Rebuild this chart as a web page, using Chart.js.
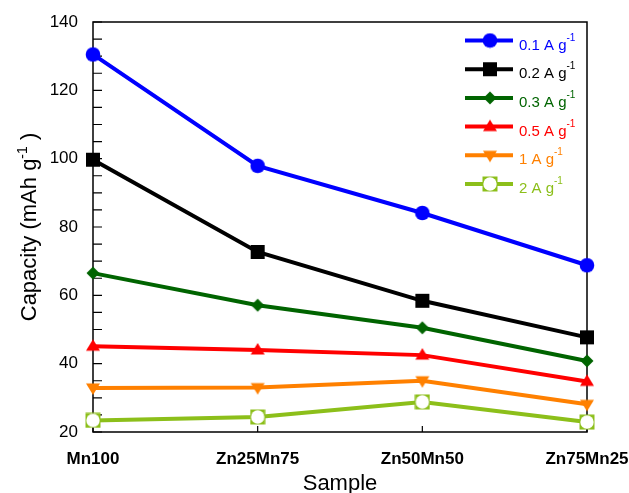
<!DOCTYPE html>
<html>
<head>
<meta charset="utf-8">
<script src="https://cdn.jsdelivr.net/npm/chart.js@4.4.1/dist/chart.umd.min.js"></script>
<style>
  html, body { margin: 0; padding: 0; background: #fff; }
  #wrap { width: 629px; height: 493px; }
</style>
</head>
<body>
<div id="wrap"><canvas id="chart" width="629" height="493"></canvas></div>
<script>
// samples on the x axis
const samples = ['Mn100', 'Zn25Mn75', 'Zn50Mn50', 'Zn75Mn25'];
// current densities (A g-1), one series each
const rates = ['0.1', '0.2', '0.3', '0.5', '1', '2'];

// capacity in mAh g-1
const cap01 = [130.5, 97.9, 84.1, 68.8];
const cap02 = [99.7, 72.7, 58.4, 47.7];
const cap03 = [66.5, 57.1, 50.5, 40.8];
const cap05 = [45.1, 44.0, 42.5, 34.8];
const cap1 = [32.9, 33.0, 35.0, 28.1];
const cap2 = [23.4, 24.4, 28.8, 22.9];

const yMin = 20;
const yMax = 140;
const yStep = 20;
const yMinorStep = 5;

const FONT = "'Liberation Sans', Arial, sans-serif";

// look of each series
const colors = ['#0000ff', '#000000', '#006400', '#ff0000', '#ff8000', '#8cbf1a'];
const shapes = ['circle', 'square', 'diamond', 'triangle', 'triangleDown', 'openSquare'];

// draws one marker into a small canvas, used as pointStyle and in the legend
function makeMarker(shape, color) {
    let size = 16;
    const c = document.createElement('canvas');
    c.width = size;
    c.height = size;
    const g = c.getContext('2d');
    const m = size / 2;
    g.fillStyle = color;
    g.beginPath();
    if (shape === 'circle') {
        g.arc(m, m, 7.3, 0, Math.PI * 2);
    } else if (shape === 'square') {
        g.rect(1, 1, 14, 14);
    } else if (shape === 'diamond') {
        g.moveTo(m, 1.5); g.lineTo(14.5, m); g.lineTo(m, 14.5); g.lineTo(1.5, m);
        g.closePath();
    } else if (shape === 'triangle') {
        g.moveTo(m, 1); g.lineTo(15, 12.5); g.lineTo(1, 12.5);
        g.closePath();
    } else if (shape === 'triangleDown') {
        g.moveTo(1, 3.5); g.lineTo(15, 3.5); g.lineTo(m, 15);
        g.closePath();
    } else {
        g.rect(0.5, 0.5, 15, 15);
    }
    g.fill();
    if (shape === 'openSquare') {
        g.fillStyle = '#ffffff';
        g.beginPath();
        g.arc(m, m, 6.7, 0, Math.PI * 2);
        g.fill();
    }
    return c;
}

const markers = shapes.map((s, i) => makeMarker(s, colors[i]));

function createDataset(label, values, i) {
    return {
        label: label,
        data: values,
        borderColor: colors[i],
        backgroundColor: colors[i],
        borderWidth: 4,
        pointStyle: markers[i],
        pointRadius: 8,
        tension: 0,
        fill: false,
        clip: false
    };
}

const allValues = [cap01, cap02, cap03, cap05, cap1, cap2];
const datasets = [];
for (let i = allValues.length - 1; i >= 0; i--) {
    datasets.push(createDataset(rates[i] + ' A g-1', allValues[i], i));
}

// writes text with a raised "-1" part; returns the width used
function drawSup(ctx, x, y, base, sup, tail, size, supSize, rise) {
    ctx.font = size + 'px ' + FONT;
    ctx.fillText(base, x, y);
    let w = ctx.measureText(base).width;
    ctx.font = supSize + 'px ' + FONT;
    ctx.fillText(sup, x + w, y - rise);
    w += ctx.measureText(sup).width;
    if (tail) {
        ctx.font = size + 'px ' + FONT;
        ctx.fillText(tail, x + w, y);
        w += ctx.measureText(tail).width;
    }
    return w;
}

function measureSup(ctx, base, sup, tail, size, supSize) {
    ctx.font = size + 'px ' + FONT;
    let w = ctx.measureText(base).width + ctx.measureText(tail).width;
    ctx.font = supSize + 'px ' + FONT;
    return w + ctx.measureText(sup).width;
}

const framePlugin = {
    id: 'boxframe',
    beforeDatasetsDraw(chart) {
        const ctx = chart.ctx;
        const a = chart.chartArea;
        const xs = chart.scales.x;
        const ys = chart.scales.y;
        ctx.save();
        ctx.strokeStyle = '#000';
        ctx.lineWidth = 1.5;
        ctx.beginPath();
        ctx.moveTo(a.left, a.top);
        ctx.lineTo(a.right, a.top);
        ctx.lineTo(a.right, a.bottom);
        ctx.lineTo(a.left, a.bottom);
        ctx.closePath();
        ctx.stroke();
        // inward ticks
        ctx.lineWidth = 1.2;
        ctx.beginPath();
        for (let v = yMin; v <= yMax; v += yMinorStep) {
            const py = ys.getPixelForValue(v);
            ctx.moveTo(a.left, py);
            ctx.lineTo(a.left + 9, py);
        }
        for (let i = 0; i < samples.length; i++) {
            const px = xs.getPixelForValue(i);
            ctx.moveTo(px, a.bottom);
            ctx.lineTo(px, a.bottom - 6);
        }
        ctx.stroke();
        ctx.restore();
    },
    afterDraw(chart) {
        const ctx = chart.ctx;
        const a = chart.chartArea;
        ctx.save();
        ctx.fillStyle = '#000';
        ctx.textBaseline = 'alphabetic';

        // x title
        ctx.font = '22px ' + FONT;
        ctx.textAlign = 'center';
        ctx.fillText('Sample', (a.left + a.right) / 2, 490);

        // y title, rotated
        ctx.textAlign = 'left';
        const tw = measureSup(ctx, 'Capacity (mAh g', '-1', ' )', 22, 14);
        ctx.translate(36, (a.top + a.bottom) / 2);
        ctx.rotate(-Math.PI / 2);
        drawSup(ctx, -tw / 2, 0, 'Capacity (mAh g', '-1', ' )', 22, 14, 9);
        ctx.restore();

        // legend
        ctx.save();
        ctx.textAlign = 'left';
        ctx.textBaseline = 'alphabetic';
        for (let i = 0; i < rates.length; i++) {
            const cy = a.top + 18.5 + i * 28.7;
            const mx = a.right - 97;
            ctx.strokeStyle = colors[i];
            ctx.lineWidth = 4;
            ctx.beginPath();
            ctx.moveTo(a.right - 122, cy);
            ctx.lineTo(a.right - 74, cy);
            ctx.stroke();
            ctx.drawImage(markers[i], mx - 8, cy - 8);
            ctx.fillStyle = colors[i];
            drawSup(ctx, a.right - 68, cy + 9, rates[i] + ' A g', '-1', '', 15, 10, 9);
        }
        ctx.restore();
    }
};

const ctx = document.getElementById('chart').getContext('2d');
const chart = new Chart(ctx, {
    type: 'line',
    data: {
        labels: samples,
        datasets: datasets
    },
    options: {
        responsive: false,
        devicePixelRatio: 1,
        animation: false,
        events: [],
        layout: {
            autoPadding: false,
            padding: { top: 22, right: 42, left: 0, bottom: 0 }
        },
        plugins: {
            legend: { display: false },
            tooltip: { enabled: false }
        },
        scales: {
            x: {
                type: 'category',
                offset: false,
                grid: { display: false },
                border: { display: false },
                ticks: {
                    color: '#000',
                    padding: 9,
                    maxRotation: 0,
                    autoSkip: false,
                    font: { family: FONT, size: 17, weight: 'bold' }
                },
                afterFit: (scale) => {
                    scale.height = 61;
                    scale.paddingLeft = 0;
                    scale.paddingRight = 0;
                }
            },
            y: {
                min: yMin,
                max: yMax,
                grid: { display: false },
                border: { display: false },
                ticks: {
                    stepSize: yStep,
                    color: '#000',
                    padding: 7,
                    font: { family: FONT, size: 17 }
                },
                afterFit: (scale) => {
                    scale.width = 93;
                    scale.paddingTop = 0;
                    scale.paddingBottom = 0;
                }
            }
        }
    },
    plugins: [framePlugin]
});
</script>
</body>
</html>
